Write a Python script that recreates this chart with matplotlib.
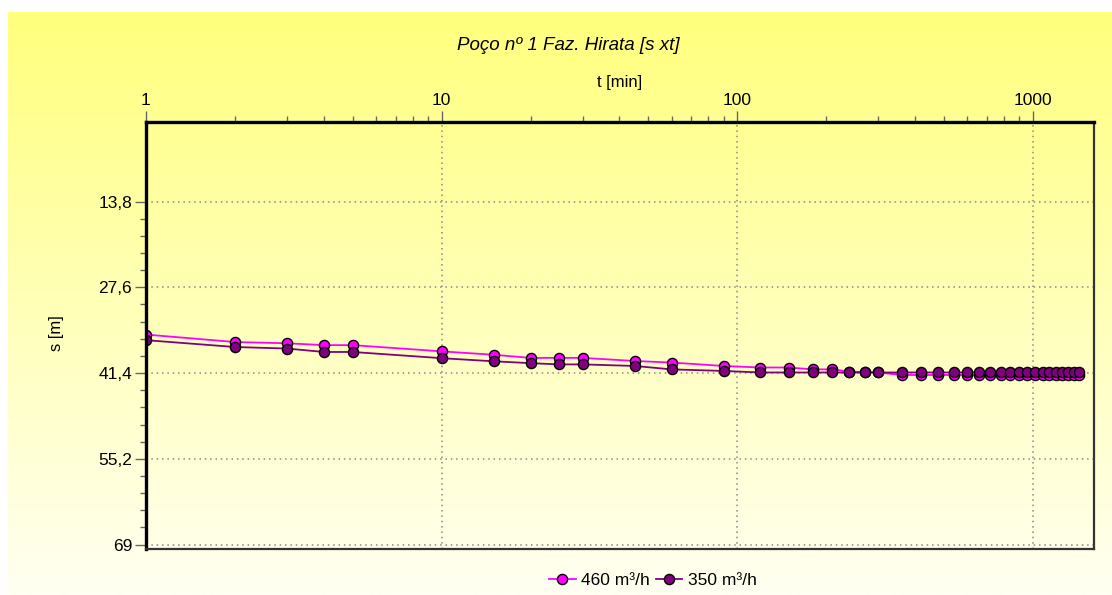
import numpy as np
import matplotlib
matplotlib.use('Agg')
import matplotlib.pyplot as plt
from matplotlib.ticker import FixedLocator, NullFormatter
from matplotlib.lines import Line2D

plt.rcParams['font.family'] = ['Liberation Sans', 'DejaVu Sans']

# tempo de bombeamento [min]
t = [1, 2, 3, 4, 5, 10, 15, 20, 25, 30, 45, 60, 90, 120, 150, 180, 210, 240, 270, 300,
     360, 420, 480, 540, 600, 660, 720, 780, 840, 900, 960, 1020, 1080, 1140, 1200,
     1260, 1320, 1380, 1440]

# rebaixamento s [m]
s_460 = [35.2, 36.4, 36.6, 36.9, 36.9, 37.9, 38.45, 38.95, 38.95, 38.95, 39.45, 39.7,
         40.25, 40.5, 40.5, 40.8, 40.8, 41.15, 41.25, 41.3,
         41.7, 41.7, 41.7, 41.7, 41.7, 41.7, 41.7, 41.7, 41.7, 41.7, 41.7, 41.7, 41.7,
         41.7, 41.7, 41.7, 41.7, 41.7, 41.7]
s_350 = [36.1, 37.2, 37.45, 38.0, 38.0, 39.0, 39.5, 39.8, 40.0, 40.0, 40.25, 40.8,
         41.05, 41.3, 41.3, 41.3, 41.3, 41.3, 41.3, 41.3,
         41.3, 41.3, 41.3, 41.3, 41.3, 41.3, 41.3, 41.3, 41.3, 41.3, 41.3, 41.3, 41.3,
         41.3, 41.3, 41.3, 41.3, 41.3, 41.3]

labels = ['460 m³/h', '350 m³/h']
colors = ['#FF00FF', '#800080']

yticks = [13.8, 27.6, 41.4, 55.2, 69]
ytick_labels = ['13,8', '27,6', '41,4', '55,2', '69']
xticks = [1, 10, 100, 1000]
xtick_labels = ['1', '10', '100', '1000']

W, H = 1112, 595
fig = plt.figure(figsize=(W / 100, H / 100), dpi=100)

# fundo em degradê amarelo
bg = fig.add_axes([8 / W, 0, 1 - 8 / W, 583 / H])
grad = np.linspace(0, 1, 256).reshape(-1, 1)
top = np.array([255, 255, 125]) / 255
bot = np.array([255, 255, 242]) / 255
img = top + (bot - top) * grad[:, :, None]
bg.imshow(img, aspect='auto', extent=[0, 1, 0, 1])
bg.set_axis_off()

ax = fig.add_axes([146 / W, 1 - 549 / H, (1094 - 146) / W, (549 - 122) / H])
ax.set_facecolor('none')

ax.semilogx(t, s_460, '-o', color=colors[0], lw=1.3, ms=7.3, mfc=colors[0], mec='black', mew=1.0)
ax.semilogx(t, s_350, '-o', color=colors[1], lw=1.3, ms=7.3, mfc=colors[1], mec='black', mew=1.0)

ax.set_xlim(1, 1613)
ax.set_ylim(69.7, 1.0)

ax.xaxis.tick_top()
ax.xaxis.set_major_locator(FixedLocator(xticks))
ax.set_xticklabels(xtick_labels)
ax.xaxis.set_minor_locator(FixedLocator([m * 10 ** d for d in range(3) for m in range(2, 10)]))
ax.xaxis.set_minor_formatter(NullFormatter())

ax.yaxis.set_major_locator(FixedLocator(yticks))
ax.set_yticklabels(ytick_labels)
ax.yaxis.set_minor_locator(FixedLocator(np.arange(13.8, 69.01, 2.76)))

ax.tick_params(which='major', length=8, width=1, color='#666666', labelsize=12.5, pad=2)
ax.tick_params(which='minor', length=4, width=1, color='#666666')

ax.grid(True, which='major', linestyle=(0, (1, 2.5)), color='#888888', lw=1.1)

for side in ['top', 'left']:
    ax.spines[side].set_linewidth(2.4)
    ax.spines[side].set_color('black')
for side in ['bottom', 'right']:
    ax.spines[side].set_linewidth(1.6)
    ax.spines[side].set_color('#333333')

fig.text(568 / W, 1 - 46 / H, 'Poço nº 1 Faz. Hirata [s xt]', ha='center', va='center',
         fontsize=13.5, style='italic')
fig.text(620 / W, 1 - 82 / H, 't [min]', ha='center', va='center', fontsize=12)
fig.text(57 / W, 1 - 333 / H, 's [m]', ha='center', va='center', fontsize=12, rotation=90)

handles = [Line2D([], [], color=c, lw=1.3, marker='o', ms=7.3, mfc=c, mec='black', mew=1.0)
           for c in colors]
fig.legend(handles, labels, loc='center', bbox_to_anchor=(653 / W, 1 - 580 / H), ncol=2,
           frameon=False, fontsize=12.5, handlelength=1.5, handletextpad=0.3,
           columnspacing=0.4)

fig.savefig('out.png', dpi=100)
